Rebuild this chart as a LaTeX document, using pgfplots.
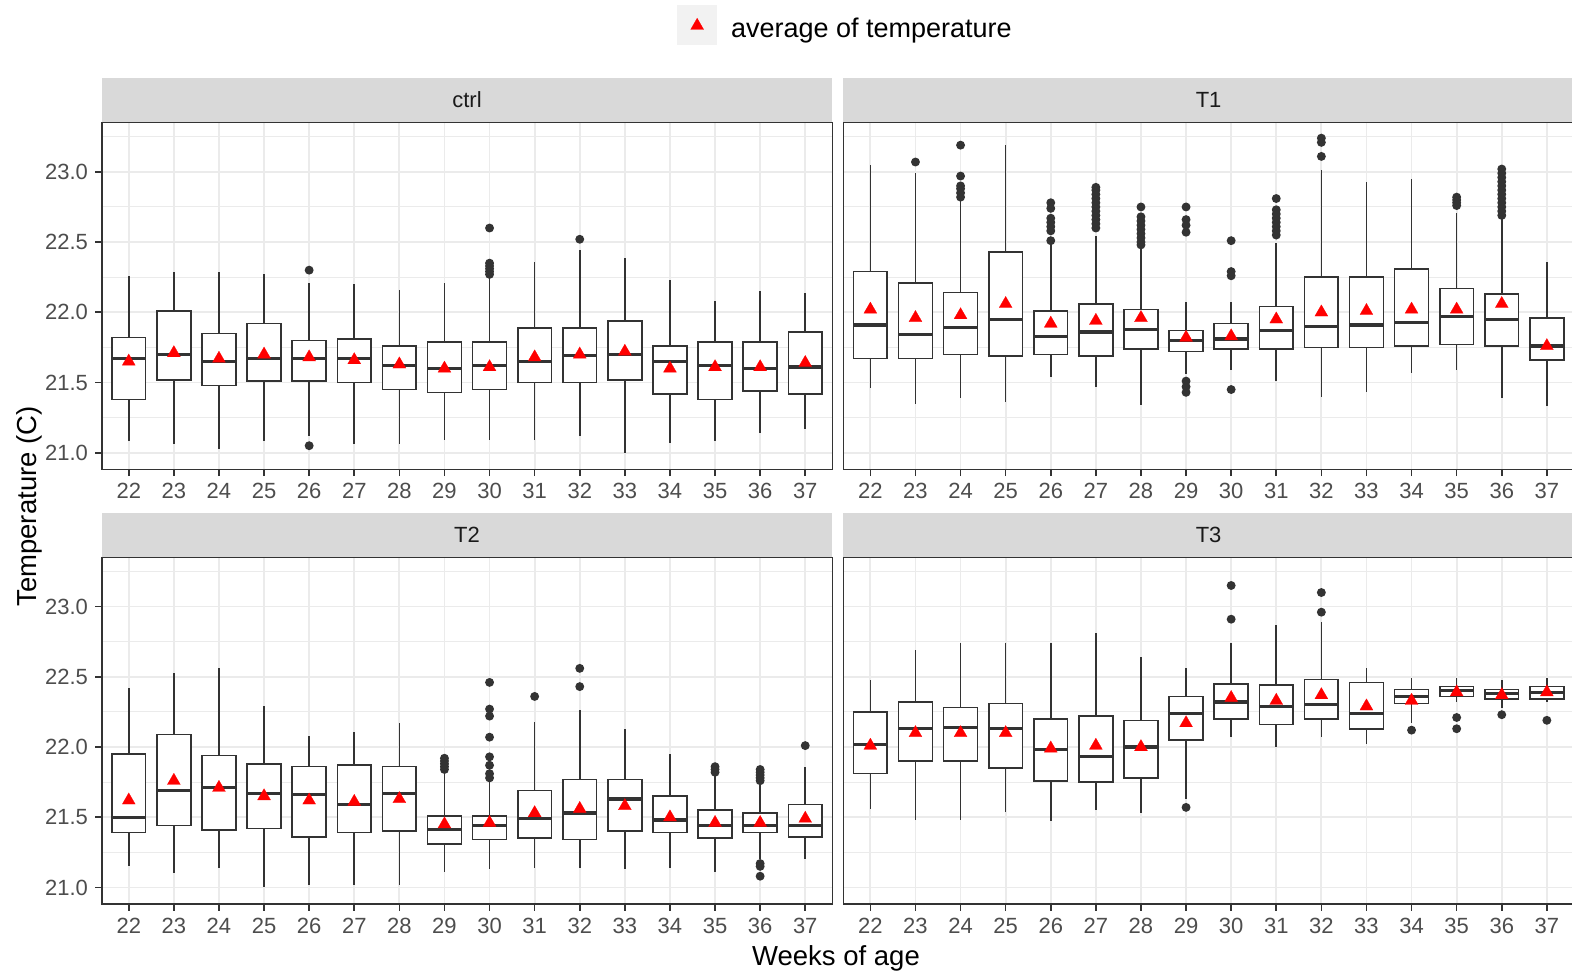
\documentclass[border=0pt]{standalone}
\usepackage{fontspec}
\setmainfont{Liberation Sans}
\usepackage{pgfplots}
\pgfplotsset{compat=1.18}
\usepgfplotslibrary{statistics}

\definecolor{gg10}{HTML}{1A1A1A}
\definecolor{gg20}{HTML}{333333}
\definecolor{gg30}{HTML}{4D4D4D}
\definecolor{gg85}{HTML}{D9D9D9}
\definecolor{gg92}{HTML}{EBEBEB}
\definecolor{gg95}{HTML}{F2F2F2}

\pgfplotsset{
  facet/.style={
    scale only axis, width=365.3pt, height=173.3pt,
    anchor=south west,
    xmin=21.4, xmax=37.6, ymin=20.882, ymax=23.35,
    xtick={22,23,24,25,26,27,28,29,30,31,32,33,34,35,36,37},
    xticklabels={22,23,24,25,26,27,28,29,30,31,32,33,34,35,36,37},
    ytick={21,21.5,22,22.5,23},
    yticklabels={21.0,21.5,22.0,22.5,23.0},
    minor ytick={21.25,21.75,22.25,22.75,23.25},
    xmajorgrids, ymajorgrids, yminorgrids,
    major grid style={draw=gg92, line width=0.9pt},
    minor grid style={draw=gg92, line width=0.5pt},
    axis line style={draw=gg20, line width=0.8pt},
    tick pos=left, tick align=outside,
    major tick length=3.35pt, minor tick length=0pt,
    major tick style={draw=gg20, line width=0.8pt},
    tick label style={font=\fontsize{11pt}{13pt}\selectfont, text=gg30},
    every axis title shift=0pt,
    title style={at={(0.5,1)}, anchor=south, fill=gg85, text=gg10,
      font=\fontsize{11pt}{13pt}\selectfont,
      minimum width=365.3pt, minimum height=22.2pt, inner sep=0pt, yshift=0pt},
    boxplot/draw direction=y,
    boxplot/box extend=0.75,
    boxplot/whisker extend=0,
    boxplot/every box/.append style={fill=white},
    boxplot/every median/.append style={line width=1.6pt},
  },
  noylabels/.style={yticklabels={}, ytick style={draw=none}},
  meanmarks/.style={only marks, color=red, mark=triangle*, mark size=3.75pt,
    mark options={fill=red, draw=red, line width=0.1pt}},
  keybox/.style={legend image code/.code={
      \fill[gg95] (0pt,-7.35pt) rectangle (19.5pt,11.85pt);
      \draw[##1] plot coordinates {(9.75pt,1.9pt)};}},
}

% one box: position, lower whisker, Q1, median, Q3, upper whisker, outliers
\newcommand\bx[7]{%
  \addplot[gg20, line width=0.8pt, mark=*, mark size=1.8pt,
    mark options={fill=gg20, draw=none},
    boxplot prepared={draw position=#1, lower whisker=#2, lower quartile=#3,
      median=#4, upper quartile=#5, upper whisker=#6}]
    coordinates {#7};}

\begin{document}
\begin{tikzpicture}
\useasboundingbox (0,0) rectangle (786pt,-487pt);

% ---------------- ctrl ----------------
\begin{axis}[facet, at={(50.85pt,-234.65pt)}, title={ctrl},
  legend style={at={(axis description cs:0.7878,1.2819)}, anchor=west,
    draw=none, fill=none, inner sep=0pt, outer sep=0pt,
    font=\fontsize{13.5pt}{16pt}\selectfont, text=black,
    nodes={inner sep=0pt},
    /tikz/every odd column/.append style={column sep=7pt}},
  legend cell align=left]
\addlegendimage{meanmarks, keybox}
\addlegendentry{average of temperature}
\bx{22}{21.08}{21.38}{21.67}{21.82}{22.26}{}
\bx{23}{21.06}{21.52}{21.70}{22.01}{22.29}{}
\bx{24}{21.03}{21.48}{21.65}{21.85}{22.29}{}
\bx{25}{21.08}{21.51}{21.67}{21.92}{22.27}{}
\bx{26}{21.12}{21.51}{21.67}{21.80}{22.21}{(26,22.30) (26,21.05)}
\bx{27}{21.06}{21.50}{21.67}{21.81}{22.20}{}
\bx{28}{21.06}{21.45}{21.62}{21.76}{22.16}{}
\bx{29}{21.09}{21.43}{21.60}{21.79}{22.21}{}
\bx{30}{21.09}{21.45}{21.62}{21.79}{22.25}{(30,22.27) (30,22.29) (30,22.31) (30,22.33) (30,22.35) (30,22.60)}
\bx{31}{21.09}{21.50}{21.65}{21.89}{22.36}{}
\bx{32}{21.12}{21.50}{21.69}{21.89}{22.44}{(32,22.52)}
\bx{33}{21.00}{21.52}{21.70}{21.94}{22.39}{}
\bx{34}{21.07}{21.42}{21.65}{21.76}{22.23}{}
\bx{35}{21.08}{21.38}{21.62}{21.79}{22.08}{}
\bx{36}{21.14}{21.44}{21.60}{21.79}{22.15}{}
\bx{37}{21.17}{21.42}{21.61}{21.86}{22.14}{}
\addplot[meanmarks] coordinates {
  (22,21.65) (23,21.71) (24,21.67) (25,21.70) (26,21.68) (27,21.66)
  (28,21.63) (29,21.60) (30,21.61) (31,21.68) (32,21.70) (33,21.72)
  (34,21.60) (35,21.61) (36,21.61) (37,21.64)};
\end{axis}

% ---------------- T1 ----------------
\begin{axis}[facet, noylabels, at={(421.65pt,-234.65pt)}, title={T1}]
\bx{22}{21.46}{21.67}{21.91}{22.29}{23.05}{}
\bx{23}{21.35}{21.67}{21.84}{22.21}{22.99}{(23,23.07)}
\bx{24}{21.39}{21.70}{21.89}{22.14}{22.80}{(24,22.82) (24,22.85) (24,22.88) (24,22.90) (24,22.97) (24,23.19)}
\bx{25}{21.36}{21.69}{21.95}{22.43}{23.19}{}
\bx{26}{21.54}{21.70}{21.83}{22.01}{22.49}{(26,22.51) (26,22.58) (26,22.61) (26,22.64) (26,22.67) (26,22.74) (26,22.78)}
\bx{27}{21.47}{21.69}{21.86}{22.06}{22.54}{(27,22.60) (27,22.63) (27,22.66) (27,22.69) (27,22.72) (27,22.75) (27,22.78) (27,22.81) (27,22.84) (27,22.87) (27,22.89)}
\bx{28}{21.34}{21.74}{21.88}{22.02}{22.46}{(28,22.48) (28,22.50) (28,22.53) (28,22.56) (28,22.59) (28,22.62) (28,22.65) (28,22.68) (28,22.75)}
\bx{29}{21.56}{21.72}{21.80}{21.87}{22.07}{(29,22.57) (29,22.62) (29,22.66) (29,22.75) (29,21.51) (29,21.47) (29,21.43)}
\bx{30}{21.59}{21.74}{21.81}{21.92}{22.07}{(30,22.26) (30,22.29) (30,22.51) (30,21.45)}
\bx{31}{21.51}{21.74}{21.87}{22.04}{22.49}{(31,22.55) (31,22.58) (31,22.61) (31,22.64) (31,22.67) (31,22.70) (31,22.73) (31,22.81)}
\bx{32}{21.40}{21.75}{21.90}{22.25}{23.01}{(32,23.11) (32,23.21) (32,23.24)}
\bx{33}{21.43}{21.75}{21.91}{22.25}{22.93}{}
\bx{34}{21.57}{21.76}{21.93}{22.31}{22.95}{}
\bx{35}{21.59}{21.77}{21.97}{22.17}{22.71}{(35,22.76) (35,22.78) (35,22.80) (35,22.82)}
\bx{36}{21.39}{21.76}{21.95}{22.13}{22.67}{(36,22.69) (36,22.72) (36,22.75) (36,22.78) (36,22.81) (36,22.84) (36,22.87) (36,22.90) (36,22.93) (36,22.96) (36,22.99) (36,23.02)}
\bx{37}{21.33}{21.66}{21.76}{21.96}{22.36}{}
\addplot[meanmarks] coordinates {
  (22,22.02) (23,21.96) (24,21.98) (25,22.06) (26,21.92) (27,21.94)
  (28,21.96) (29,21.82) (30,21.83) (31,21.95) (32,22.00) (33,22.01)
  (34,22.02) (35,22.02) (36,22.06) (37,21.76)};
\end{axis}

% ---------------- T2 ----------------
\begin{axis}[facet, at={(50.85pt,-452pt)}, title={T2}]
\bx{22}{21.15}{21.39}{21.50}{21.95}{22.42}{}
\bx{23}{21.10}{21.44}{21.69}{22.09}{22.53}{}
\bx{24}{21.14}{21.41}{21.71}{21.94}{22.56}{}
\bx{25}{21.00}{21.42}{21.67}{21.88}{22.29}{}
\bx{26}{21.02}{21.36}{21.66}{21.86}{22.08}{}
\bx{27}{21.02}{21.39}{21.59}{21.87}{22.11}{}
\bx{28}{21.02}{21.40}{21.67}{21.86}{22.17}{}
\bx{29}{21.11}{21.31}{21.41}{21.51}{21.81}{(29,21.84) (29,21.86) (29,21.88) (29,21.90) (29,21.92)}
\bx{30}{21.13}{21.34}{21.44}{21.51}{21.76}{(30,21.78) (30,21.81) (30,21.87) (30,21.93) (30,22.07) (30,22.22) (30,22.27) (30,22.46)}
\bx{31}{21.14}{21.35}{21.49}{21.69}{22.18}{(31,22.36)}
\bx{32}{21.14}{21.34}{21.53}{21.77}{22.26}{(32,22.43) (32,22.56)}
\bx{33}{21.13}{21.40}{21.63}{21.77}{22.13}{}
\bx{34}{21.14}{21.39}{21.48}{21.65}{21.95}{}
\bx{35}{21.11}{21.35}{21.44}{21.55}{21.81}{(35,21.82) (35,21.84) (35,21.86)}
\bx{36}{21.20}{21.39}{21.44}{21.53}{21.74}{(36,21.76) (36,21.78) (36,21.80) (36,21.82) (36,21.84) (36,21.17) (36,21.15) (36,21.08)}
\bx{37}{21.20}{21.36}{21.44}{21.59}{21.86}{(37,22.01)}
\addplot[meanmarks] coordinates {
  (22,21.62) (23,21.76) (24,21.71) (25,21.65) (26,21.62) (27,21.61)
  (28,21.63) (29,21.45) (30,21.46) (31,21.53) (32,21.56) (33,21.58)
  (34,21.50) (35,21.46) (36,21.46) (37,21.49)};
\end{axis}

% ---------------- T3 ----------------
\begin{axis}[facet, noylabels, at={(421.65pt,-452pt)}, title={T3}]
\bx{22}{21.56}{21.81}{22.02}{22.25}{22.48}{}
\bx{23}{21.48}{21.90}{22.13}{22.32}{22.69}{}
\bx{24}{21.48}{21.90}{22.14}{22.28}{22.74}{}
\bx{25}{21.54}{21.85}{22.13}{22.31}{22.74}{}
\bx{26}{21.47}{21.76}{21.98}{22.20}{22.74}{}
\bx{27}{21.55}{21.75}{21.93}{22.22}{22.81}{}
\bx{28}{21.53}{21.78}{22.00}{22.19}{22.64}{}
\bx{29}{21.63}{22.05}{22.24}{22.36}{22.56}{(29,21.57)}
\bx{30}{22.07}{22.20}{22.32}{22.45}{22.74}{(30,22.91) (30,23.15)}
\bx{31}{22.00}{22.16}{22.29}{22.44}{22.87}{}
\bx{32}{22.07}{22.20}{22.30}{22.48}{22.89}{(32,22.96) (32,23.10)}
\bx{33}{22.02}{22.13}{22.24}{22.46}{22.56}{}
\bx{34}{22.17}{22.31}{22.36}{22.41}{22.49}{(34,22.12)}
\bx{35}{22.32}{22.36}{22.40}{22.43}{22.49}{(35,22.21) (35,22.13)}
\bx{36}{22.28}{22.34}{22.38}{22.41}{22.48}{(36,22.23)}
\bx{37}{22.32}{22.34}{22.39}{22.43}{22.49}{(37,22.19)}
\addplot[meanmarks] coordinates {
  (22,22.01) (23,22.10) (24,22.10) (25,22.10) (26,21.99) (27,22.01)
  (28,22.00) (29,22.17) (30,22.35) (31,22.33) (32,22.37) (33,22.29)
  (34,22.33) (35,22.39) (36,22.37) (37,22.39)};
\end{axis}

% axis titles
\node[rotate=90, anchor=base, font=\fontsize{13.75pt}{16pt}\selectfont, text=black]
  at (18.35pt,-253.25pt) {Temperature (C)};
\node[anchor=base, font=\fontsize{13.75pt}{16pt}\selectfont, text=black]
  at (418pt,-482.6pt) {Weeks of age};
\end{tikzpicture}
\end{document}
